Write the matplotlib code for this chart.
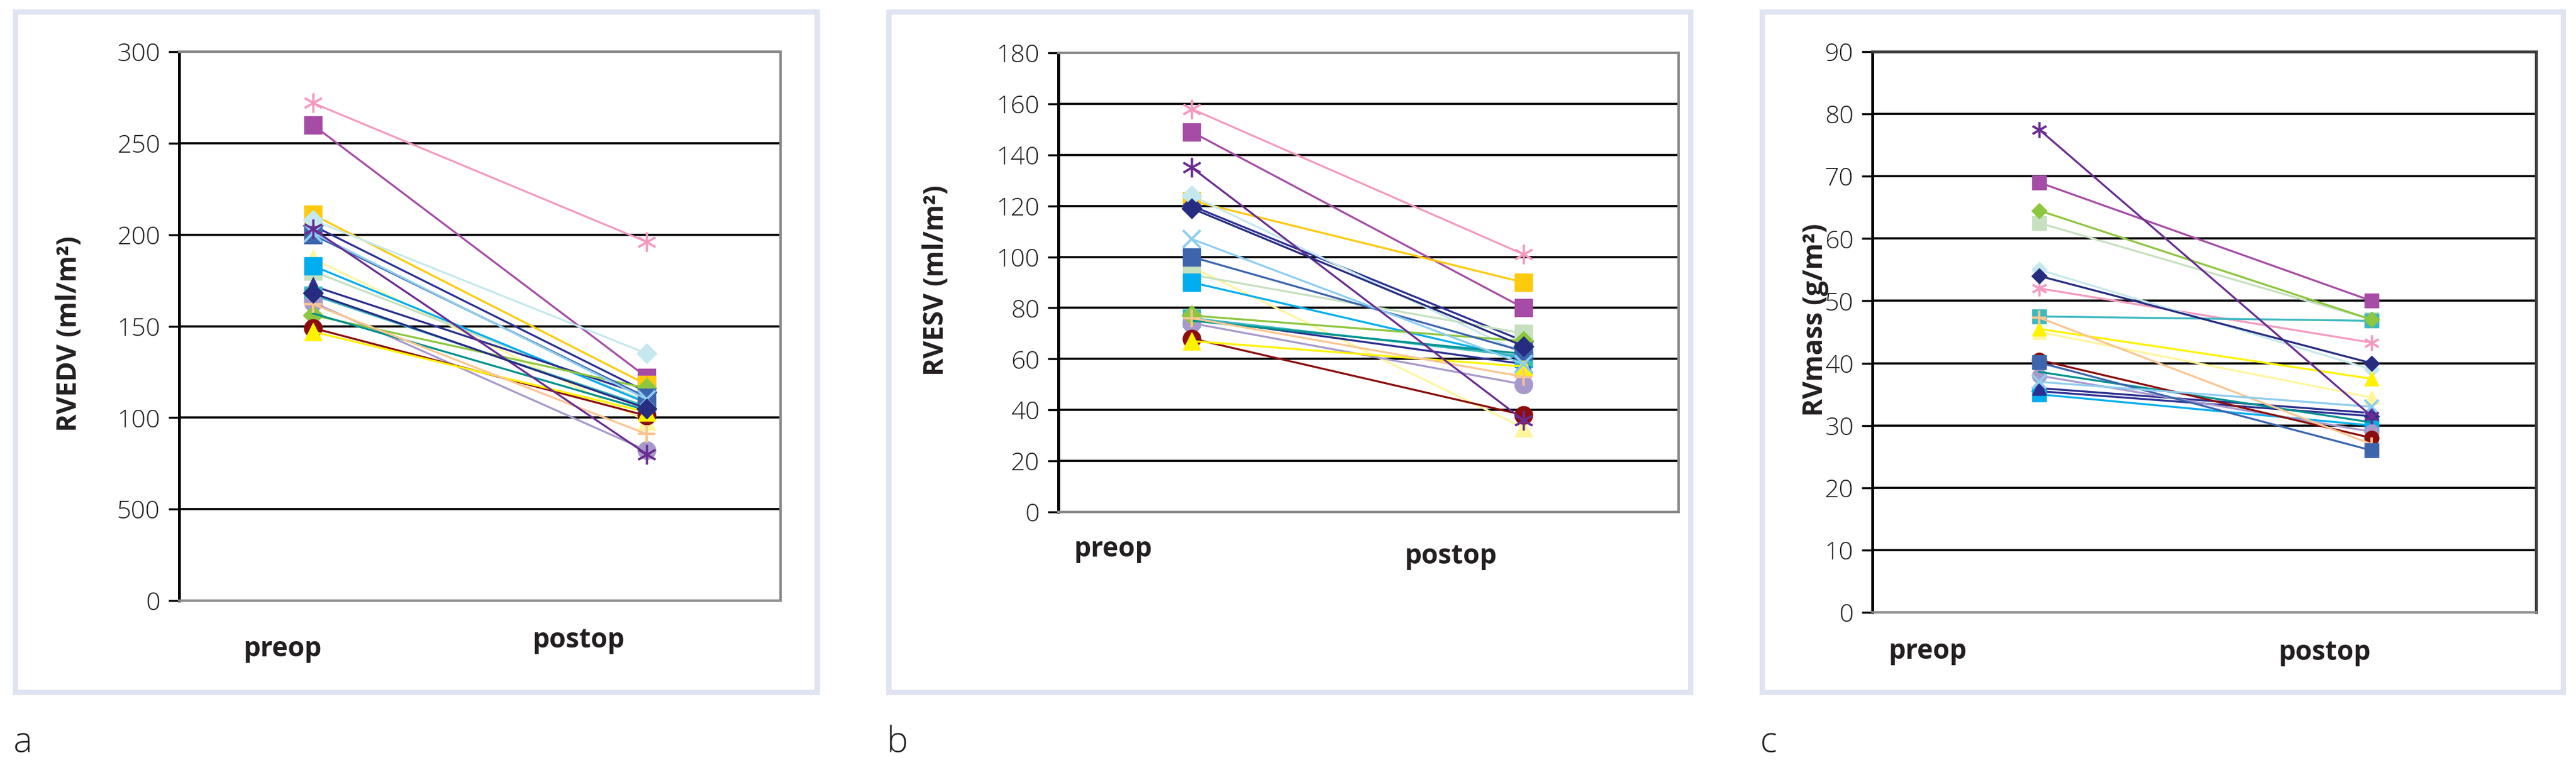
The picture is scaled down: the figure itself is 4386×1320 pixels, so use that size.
import matplotlib
matplotlib.use('Agg')
import matplotlib.pyplot as plt
import matplotlib.transforms as mtransforms
from matplotlib.patches import Rectangle
import numpy as np

plt.rcParams['font.family'] = ['Open Sans', 'DejaVu Sans']

# datos (un valor por paciente, preop y postop)
categorias = ['preop', 'postop']

colores = ['#f49ac1', '#a64ca6', '#ffc90e', '#2e3192', '#c5e8ee',
           '#fff59d', '#c6e0c0', '#00aeef', '#2b2f8f', '#3cb8c0',
           '#a899cc', '#8dc63f', '#00928f', '#8b0d0d', '#fff200',
           '#fbc591', '#3c65ae', '#8dcdf0', '#6a2c91', '#262d80']
marcadores = ['ast', 's', 's', 'D', 'D',
              '^', 's', 's', '^', 's',
              'o', 'D', '', 'o', '^',
              '+', 's', 'x', 'ast', 'D']

rvedv_pre = [272, 260, 211, 205, 208, 187, 180, 183, 172, 167,
             163, 156, 157, 149, 147, 162, 200, 201, 203, 168]
rvedv_post = [196, 122, 118, 114, 135, 98, 109, 108, 112, 106,
              82, 116, 104, 101, 103, 91, 111, 110, 80, 105]

rvesv_pre = [158, 149, 122, 120, 124, 96, 93, 90, 76, 76,
             74, 77, 75, 68, 67, 76, 100, 107, 135, 119]
rvesv_post = [101, 80, 90, 67, 62, 33, 70, 60, 58, 61,
              50, 67, 62, 38, 57, 53, 63, 58, 36, 65]

rvmass_pre = [52, 69, np.nan, 35.5, 55, 45, 62.5, 35, 36, 47.5,
              38, 64.5, 38.6, 40.5, 45.5, 47.3, 40.1, 37, 77.5, 54]
rvmass_post = [43.3, 50, np.nan, 31.5, 39, 34.5, 47, 30, 32, 46.8,
               29, 47, 30.5, 28, 37.5, 27, 26, 33, 31.5, 40]

ticks_a = [0, 50, 100, 150, 200, 250, 300]
ticklabels_a = ['0', '500', '100', '150', '200', '250', '300']
ticks_b = list(range(0, 181, 20))
ticks_c = list(range(0, 91, 10))

W, H = 4386, 1320
fig = plt.figure(figsize=(W / 100, H / 100), dpi=100)


def caja(x0, y0, x1, y1):
    # posiciones en pixeles, y desde arriba
    return [x0 / W, 1 - y1 / H, (x1 - x0) / W, (y1 - y0) / H]


def dibujar(ax, pre, post, ticks, ticklabels, xlim, lab_x, lab_y, escala):
    for i in range(len(pre)):
        if np.isnan(pre[i]):
            continue
        m = marcadores[i]
        ms = 22
        mew = 1
        mk = m
        if m == 'ast':
            mk = (6, 2, 0)
            ms = 24
            mew = 2.5
        elif m == 'D':
            ms = 17
        elif m in ('x', '+'):
            ms = 22
            mew = 3
        elif m == '':
            mk = None
        ax.plot([0, 1], [pre[i], post[i]], color=colores[i], lw=2.4,
                marker=mk, ms=ms * escala, mew=mew, mfc=colores[i],
                mec=colores[i], zorder=3 + i * 0.01, clip_on=False)
    ax.set_xlim(*xlim)
    ax.set_ylim(ticks[0], ticks[-1])
    ax.set_yticks(ticks)
    ax.set_yticklabels(ticklabels, fontsize=31, fontweight='light', color='#231f20')
    ax.set_xticks([])
    ax.tick_params(axis='y', length=13, width=2.5, pad=10, color='black')
    for t in ticks[1:-1]:
        ax.axhline(t, color='black', lw=2.6, zorder=1)
    ax.spines['left'].set_color('black')
    ax.spines['left'].set_linewidth(3.5)
    for s in ['top', 'right', 'bottom']:
        ax.spines[s].set_color('#8a8a8a')
        ax.spines[s].set_linewidth(3)
    trans = mtransforms.blended_transform_factory(ax.transData, ax.transAxes)
    for k in range(2):
        ax.text(lab_x[k], lab_y[k], categorias[k], transform=trans, ha='center',
                va='center', fontsize=33, fontweight='bold', color='#231f20')


# panel a
ax_a = fig.add_axes(caja(305, 88, 1329, 1023))
dibujar(ax_a, rvedv_pre, rvedv_post, ticks_a, ticklabels_a, (-0.40, 1.40),
        [-0.09, 0.796], [-0.088, -0.072], 1.0)

# panel b
ax_b = fig.add_axes(caja(1802, 90, 2858, 872))
dibujar(ax_b, rvesv_pre, rvesv_post, ticks_b, [str(t) for t in ticks_b],
        (-0.402, 1.467), [-0.237, 0.78], [-0.081, -0.097], 1.0)

# panel c
ax_c = fig.add_axes(caja(3188, 88, 4318, 1043))
dibujar(ax_c, rvmass_pre, rvmass_post, ticks_c, [str(t) for t in ticks_c],
        (-0.502, 1.495), [-0.336, 0.859], [-0.070, -0.072], 0.8)
for s in ['top', 'right']:
    ax_c.spines[s].set_color('#3c3c3c')
    ax_c.spines[s].set_linewidth(3.5)

# etiquetas del eje y
fig.text(118 / W, 1 - 568 / H, 'RVEDV (ml/m²)', rotation=90, ha='center', va='center',
         fontsize=33, fontweight='bold', color='#231f20')
fig.text(1593 / W, 1 - 478 / H, 'RVESV (ml/m²)', rotation=90, ha='center', va='center',
         fontsize=33, fontweight='bold', color='#231f20')
fig.text(3090 / W, 1 - 545 / H, 'RVmass (g/m²)', rotation=90, ha='center', va='center',
         fontsize=33, fontweight='bold', color='#231f20')

# marcos de cada panel
for x0, x1 in [(21, 1395), (1508, 2882), (2995, 4368)]:
    fig.patches.append(Rectangle((x0 / W + 4.5 / W, 1 - 1179 / H), (x1 - x0 - 9) / W,
                                 (1179 - 19.5) / H, transform=fig.transFigure,
                                 fill=False, edgecolor='#e0e3f1', lw=6.5))

# letras de panel
for x, letra in [(22, 'a'), (1510, 'b'), (2997, 'c')]:
    fig.text(x / W, 1 - 1266 / H, letra, ha='left', va='center', fontsize=44,
             fontweight='light', color='#231f20')

fig.savefig('out.png', dpi=100, facecolor='white')
